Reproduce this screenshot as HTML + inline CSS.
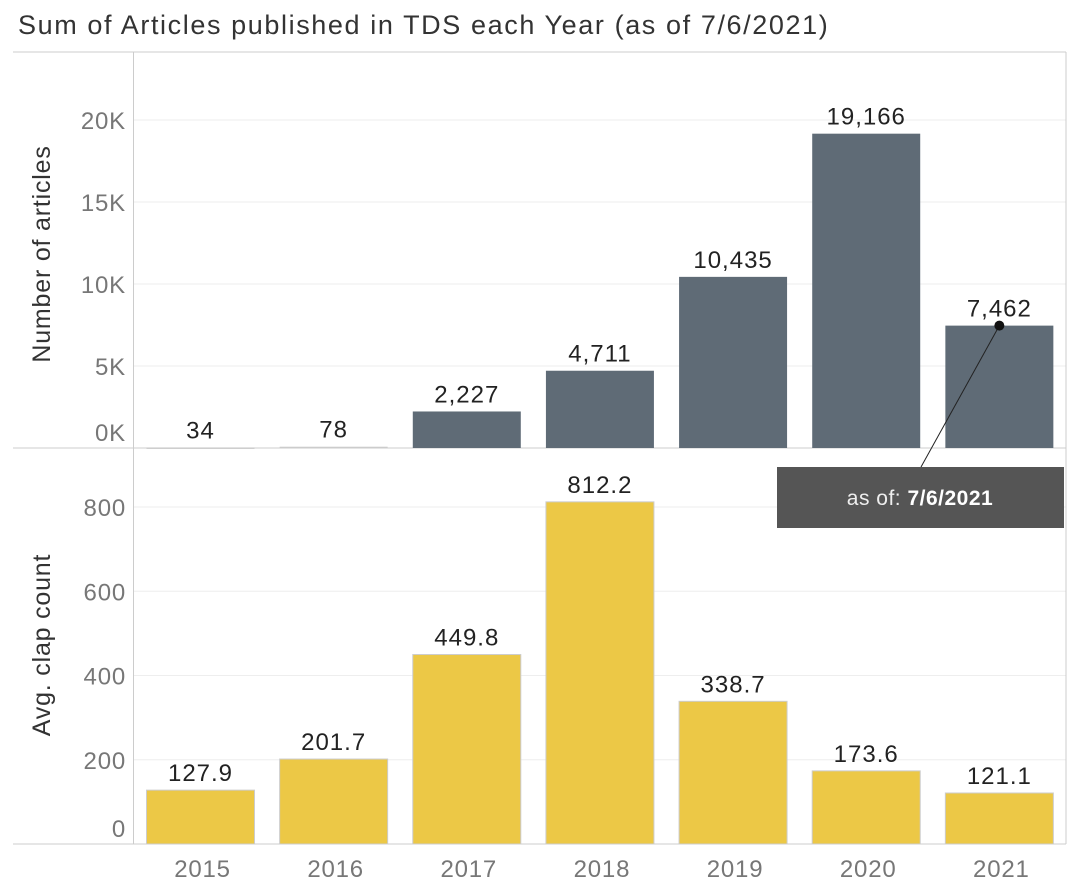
<!DOCTYPE html>
<html><head><meta charset="utf-8"><style>
body{margin:0;background:#fff;}
svg{display:block;font-family:"Liberation Sans",sans-serif;}
</style></head><body>
<svg id="c" width="1077" height="895">
<text x="18" y="34" font-size="27" letter-spacing="1.6" fill="#333">Sum of Articles published in TDS each Year (as of 7/6/2021)</text>
<g id="g"></g>
</svg>
<script>
const years=["2015","2016","2017","2018","2019","2020","2021"];
const articles=[34,78,2227,4711,10435,19166,7462];
const articleLabels=["34","78","2,227","4,711","10,435","19,166","7,462"];
const claps=[127.9,201.7,449.8,812.2,338.7,173.6,121.1];
const clapLabels=["127.9","201.7","449.8","812.2","338.7","173.6","121.1"];
const topTicks=[0,5000,10000,15000,20000];
const topTickLabels=["0K","5K","10K","15K","20K"];
const botTicks=[0,200,400,600,800];
const botTickLabels=["0","200","400","600","800"];

const NS="http://www.w3.org/2000/svg";
const g=document.getElementById('g');
function mk(t,a,txt){const e=document.createElementNS(NS,t);for(const k in a)e.setAttribute(k,a[k]);if(txt!=null)e.textContent=txt;g.appendChild(e);return e;}
const X0=134,X1=1066,band=(X1-X0)/years.length;
const xb=i=>X0+i*band+12.5;
const yTop=v=>448-v*328/20000;
const yBot=v=>844-v*337/800;

topTicks.forEach((t,i)=>{
 if(t>0){const l=mk('line',{x1:X0,x2:X1,y1:yTop(t),y2:yTop(t),stroke:'#eee'});
 }
 const e=mk('text',{x:126,y:yTop(t)+(t===0?-7:9),'font-size':24,'letter-spacing':0.8,fill:'#777','text-anchor':'end'},topTickLabels[i]);
 
});
botTicks.forEach((t,i)=>{
 if(t>0){const l=mk('line',{x1:X0,x2:X1,y1:yBot(t),y2:yBot(t),stroke:'#eee'});
 }
 const e=mk('text',{x:126,y:yBot(t)+(t===0?-7:9),'font-size':24,'letter-spacing':0.8,fill:'#777','text-anchor':'end'},botTickLabels[i]);
 
});
[[13,52,1066,52],[13,448,1066,448],[13,844,1066,844],[133.5,52,133.5,844],[1066,52,1066,844]].forEach(p=>{
 const l=mk('line',{x1:p[0],y1:p[1],x2:p[2],y2:p[3],stroke:'#ccc'});
 
});
years.forEach((y,i)=>{
 const h=448-yTop(articles[i]);
 const b=mk('rect',{x:xb(i),y:yTop(articles[i]),width:108,height:Math.max(h,1.5),fill:h<3?'#ccc':'#5f6b76'});
 
 const t=mk('text',{x:xb(i)+54,y:yTop(articles[i])-9,'font-size':24,'letter-spacing':1,fill:'#222','text-anchor':'middle'},articleLabels[i]);
 
 const c=mk('rect',{x:xb(i),y:yBot(claps[i]),width:108,height:844-yBot(claps[i]),fill:'#ecc846',stroke:'#ccc','stroke-width':1});
 
 const t2=mk('text',{x:xb(i)+54,y:yBot(claps[i])-9,'font-size':24,'letter-spacing':1,fill:'#222','text-anchor':'middle'},clapLabels[i]);
 
 const xl=mk('text',{x:xb(i)+56,y:877,'font-size':24,'letter-spacing':0.8,fill:'#777','text-anchor':'middle'},y);
 
});
let a=mk('text',{x:0,y:0,'font-size':25,'letter-spacing':0.8,fill:'#333','text-anchor':'middle',transform:'translate(50,254) rotate(-90)'},'Number of articles');

a=mk('text',{x:0,y:0,'font-size':25,'letter-spacing':0.8,fill:'#333','text-anchor':'middle',transform:'translate(50,645) rotate(-90)'},'Avg. clap count');

const ax=xb(6)+54, ay=yTop(articles[6]);
let l=mk('line',{x1:ax,y1:ay,x2:921,y2:467,stroke:'#222','stroke-width':1});

let d=mk('circle',{cx:ax,cy:ay,r:5,fill:'#111'});

let r=mk('rect',{x:777,y:467,width:287,height:61,fill:'#555'});

let at=mk('text',{x:920,y:505,'font-size':21,'letter-spacing':0.5,fill:'#fff','text-anchor':'middle'});

at.innerHTML='<tspan fill="#eee">as of: </tspan><tspan font-weight="bold">7/6/2021</tspan>';
</script>
</body></html>
